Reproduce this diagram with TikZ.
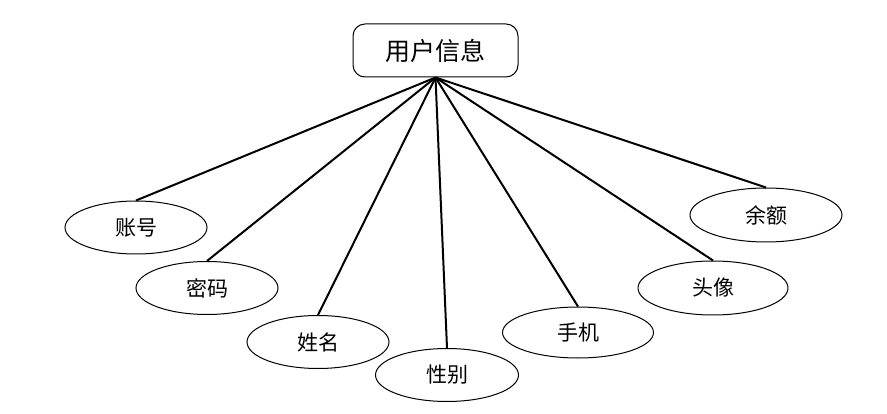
\documentclass[tikz,border=0pt]{standalone}
\usepackage{fontspec}
\newfontfamily\cjk{Noto Sans CJK SC}
\usetikzlibrary{shapes.geometric}
\begin{document}
\begin{tikzpicture}[x=1pt,y=-1pt,
  topbox/.style={draw,line width=1pt,rounded corners=12pt,minimum width=165pt,minimum height=53pt,inner sep=0pt,font=\cjk\fontsize{25}{27}\selectfont},
  attr/.style={draw,ellipse,line width=1pt,minimum width=142pt,minimum height=53pt,inner sep=0pt,font=\cjk\fontsize{21}{23}\selectfont},
  link/.style={line width=2pt}]
\useasboundingbox (0,0) rectangle (887,414);
\node[topbox] (u) at (435.5,50.5) {用户信息};
\node[attr] (a1) at (136,227.5) {账号};
\node[attr] (a2) at (207,288) {密码};
\node[attr] (a3) at (318,342) {姓名};
\node[attr,minimum width=143pt] (a4) at (447,375) {性别};
\node[attr,minimum width=151pt,minimum height=51pt] (a5) at (578,332.5) {手机};
\node[attr,minimum width=150pt,minimum height=54pt] (a6) at (713,288) {头像};
\node[attr,minimum width=152pt,minimum height=54pt] (a7) at (766,215) {余额};
\foreach \n in {a1,a2,a3,a4,a5,a6,a7}
  \draw[link] (u.south) -- (\n.north);
\end{tikzpicture}
\end{document}
